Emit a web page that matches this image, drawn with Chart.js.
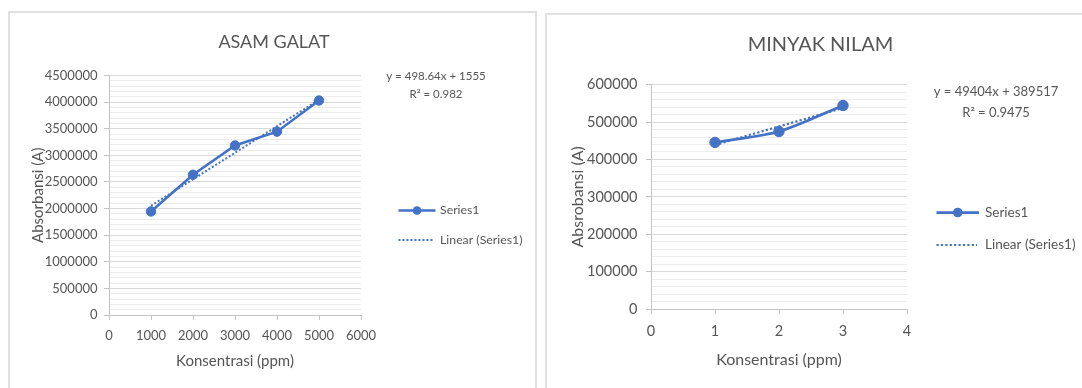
<!DOCTYPE html>
<html><head><meta charset="utf-8">
<script src="https://cdn.jsdelivr.net/npm/chart.js@4.4.0/dist/chart.umd.min.js"></script>
<style>
html,body{margin:0;padding:0;background:#fff;width:1082px;height:388px;overflow:hidden;position:relative;}
.card{position:absolute;border:2px solid #e0e0e0;box-sizing:border-box;}
canvas{position:absolute;top:0;}
</style></head><body>
<div class="card" style="left:8px;top:11px;width:529px;height:420px"></div>
<div class="card" style="left:545px;top:13px;width:580px;height:420px"></div>
<canvas id="c1" width="540" height="388" style="left:0px;width:540px;height:388px"></canvas>
<canvas id="c2" width="541" height="388" style="left:541px;width:541px;height:388px"></canvas>
<script>
// ---- data: ASAM GALAT ----
const asamTitle = 'ASAM GALAT';
const asamX = [1000, 2000, 3000, 4000, 5000];
const asamY = [1945000, 2635000, 3185000, 3445000, 4030000];
const asamEquation = ['y = 498.64x + 1555', 'R\u00B2 = 0.982'];
const asamYTitle = 'Absorbansi (A)';
const asamXTitle = 'Konsentrasi (ppm)';
const asamXTicks = [0, 1000, 2000, 3000, 4000, 5000, 6000];

// ---- data: MINYAK NILAM ----
const nilamTitle = 'MINYAK NILAM';
const nilamX = [1, 2, 3];
const nilamY = [445600, 474900, 544400];
const nilamEquation = ['y = 49404x + 389517', 'R\u00B2 = 0.9475'];
const nilamYTitle = 'Absrobansi (A)';
const nilamXTitle = 'Konsentrasi (ppm)';
const nilamXTicks = [0, 1, 2, 3, 4];

const legendLabels = ['Series1', 'Linear (Series1)'];

const BLUE = '#4472C4';
const TEXT = '#565656';
const FONT = 'Lato, "Open Sans", sans-serif';

function linearFit(xs, ys) {
  const n = xs.length;
  const mx = xs.reduce((a, b) => a + b, 0) / n;
  const my = ys.reduce((a, b) => a + b, 0) / n;
  let sxy = 0, sxx = 0;
  for (let i = 0; i < n; i++) { sxy += (xs[i] - mx) * (ys[i] - my); sxx += (xs[i] - mx) ** 2; }
  const slope = sxy / sxx, icpt = my - slope * mx;
  const x0 = Math.min(...xs), x1 = Math.max(...xs);
  return [{x: x0, y: icpt + slope * x0}, {x: x1, y: icpt + slope * x1}];
}

const overlay = {
  id: 'overlay',
  afterDraw(chart, args, o) {
    const ctx = chart.ctx;
    ctx.save();
    ctx.fillStyle = TEXT;
    ctx.textBaseline = 'middle';
    ctx.textAlign = 'center';
    ctx.font = o.titleSize + 'px ' + FONT;
    ctx.fillText(o.title, o.titleX, o.titleY);
    ctx.font = o.textSize + 'px ' + FONT;
    o.eq.forEach((t, i) => ctx.fillText(t, o.eqX, o.eqY[i]));
    // legend
    const L = o.legend;
    ctx.strokeStyle = BLUE; ctx.fillStyle = BLUE;
    ctx.lineWidth = L.lw;
    ctx.beginPath(); ctx.moveTo(L.x0, L.y0); ctx.lineTo(L.x1, L.y0); ctx.stroke();
    ctx.beginPath(); ctx.arc((L.x0 + L.x1) / 2, L.y0, L.r, 0, Math.PI * 2); ctx.fill();
    ctx.lineWidth = L.dw;
    ctx.setLineDash(L.dash);
    ctx.beginPath(); ctx.moveTo(L.x0, L.y1); ctx.lineTo(L.x1 - 2, L.y1); ctx.stroke();
    ctx.setLineDash([]);
    ctx.fillStyle = TEXT;
    ctx.textAlign = 'left';
    ctx.font = o.legendSize + 'px ' + FONT;
    ctx.fillText(o.labels[0], L.tx, L.y0);
    ctx.fillText(o.labels[1], L.tx, L.y1);
    ctx.restore();
  }
};

function makeChart(id, xs, ys, xTicks, yMax, yStep, yMajor, texts, lay) {
  const isMajor = v => Math.round(v) % yMajor === 0;
  return new Chart(document.getElementById(id), {
    type: 'scatter',
    data: {
      datasets: [
        { data: linearFit(xs, ys), showLine: true, borderColor: BLUE, borderWidth: lay.dw,
          borderDash: lay.dash, pointRadius: 0, fill: false, order: 0 },
        { data: xs.map((x, i) => ({x, y: ys[i]})), showLine: true, borderColor: BLUE,
          backgroundColor: BLUE, borderWidth: lay.lw, pointRadius: lay.pr, pointBorderWidth: 1,
          pointBackgroundColor: BLUE, pointBorderColor: BLUE, tension: lay.tension, order: 1 }
      ]
    },
    options: {
      responsive: false, animation: false, devicePixelRatio: 1, events: [],
      layout: { padding: { left: 0, top: lay.top, right: lay.right, bottom: 0 } },
      plugins: {
        legend: { display: false }, tooltip: { enabled: false }, title: { display: false },
        overlay: texts
      },
      scales: {
        x: {
          type: 'linear', min: xTicks[0], max: xTicks[xTicks.length - 1],
          afterBuildTicks: s => { s.ticks = xTicks.map(v => ({value: v})); },
          afterFit: s => { s.height = lay.xH; },
          ticks: { color: TEXT, font: { family: FONT, size: lay.tickSize }, padding: lay.xPad,
                   autoSkip: false, maxRotation: 0, callback: v => String(v) },
          grid: { drawOnChartArea: false, drawTicks: true, tickLength: 5, tickColor: '#c4c4c4' },
          border: { display: true, color: '#c4c4c4', width: 1 },
          title: { display: true, text: texts.xTitle, color: TEXT,
                   font: { family: FONT, size: lay.axisTitleSize }, padding: { top: 0, bottom: lay.xTitlePad } }
        },
        y: {
          type: 'linear', min: 0, max: yMax,
          afterFit: s => { s.width = lay.yW; },
          ticks: { stepSize: yStep, autoSkip: false, color: TEXT, padding: lay.yPad,
                   font: { family: FONT, size: lay.tickSize },
                   callback: v => isMajor(v) ? String(Math.round(v)) : '' },
          grid: { color: c => (c.tick && isMajor(c.tick.value)) ? '#d9d9d9' : '#ececec',
                  lineWidth: 1, drawTicks: true, tickLength: 5,
                  tickColor: c => (c.tick && isMajor(c.tick.value)) ? '#c4c4c4' : 'rgba(0,0,0,0)' },
          border: { display: true, color: '#c4c4c4', width: 1 },
          title: { display: true, text: texts.yTitle, color: TEXT,
                   font: { family: FONT, size: lay.axisTitleSize }, padding: { top: lay.yTitlePad, bottom: 0 } }
        }
      }
    },
    plugins: [overlay]
  });
}

makeChart('c1', asamX, asamY, asamXTicks, 4500000, 100000, 500000,
  { title: asamTitle, titleSize: 18, titleX: 274, titleY: 42, textSize: 11.5, legendSize: 12.3,
    eq: asamEquation, eqX: 436, eqY: [76, 94.5], labels: legendLabels,
    xTitle: asamXTitle, yTitle: asamYTitle,
    legend: { x0: 398.5, x1: 435.5, y0: 210.5, y1: 240, r: 4.3, lw: 2.5, dw: 2, dash: [2, 2], tx: 440 } },
  { top: 75.5, right: 179, xH: 73, yW: 109, tickSize: 13, axisTitleSize: 15,
    xPad: 7.9, yPad: 6.5, xTitlePad: 18, yTitlePad: 29.3, lw: 2.5, dw: 2, dash: [2, 2], pr: 4.7, tension: 0 });

makeChart('c2', nilamX, nilamY, nilamXTicks, 600000, 20000, 100000,
  { title: nilamTitle, titleSize: 20, titleX: 279.5, titleY: 45, textSize: 13, legendSize: 13.5,
    eq: nilamEquation, eqX: 455, eqY: [91.5, 113], labels: legendLabels,
    xTitle: nilamXTitle, yTitle: nilamYTitle,
    legend: { x0: 395.5, x1: 438, y0: 212.5, y1: 245, r: 4.8, lw: 2.75, dw: 2.2, dash: [2.2, 2.2], tx: 444 } },
  { top: 84.7, right: 175, xH: 79, yW: 110, tickSize: 14.5, axisTitleSize: 16,
    xPad: 9, yPad: 8.5, xTitlePad: 18.4, yTitlePad: 27.4, lw: 2.75, dw: 2.2, dash: [2.2, 2.2], pr: 5.2, tension: 0.3 });
</script>
</body></html>
